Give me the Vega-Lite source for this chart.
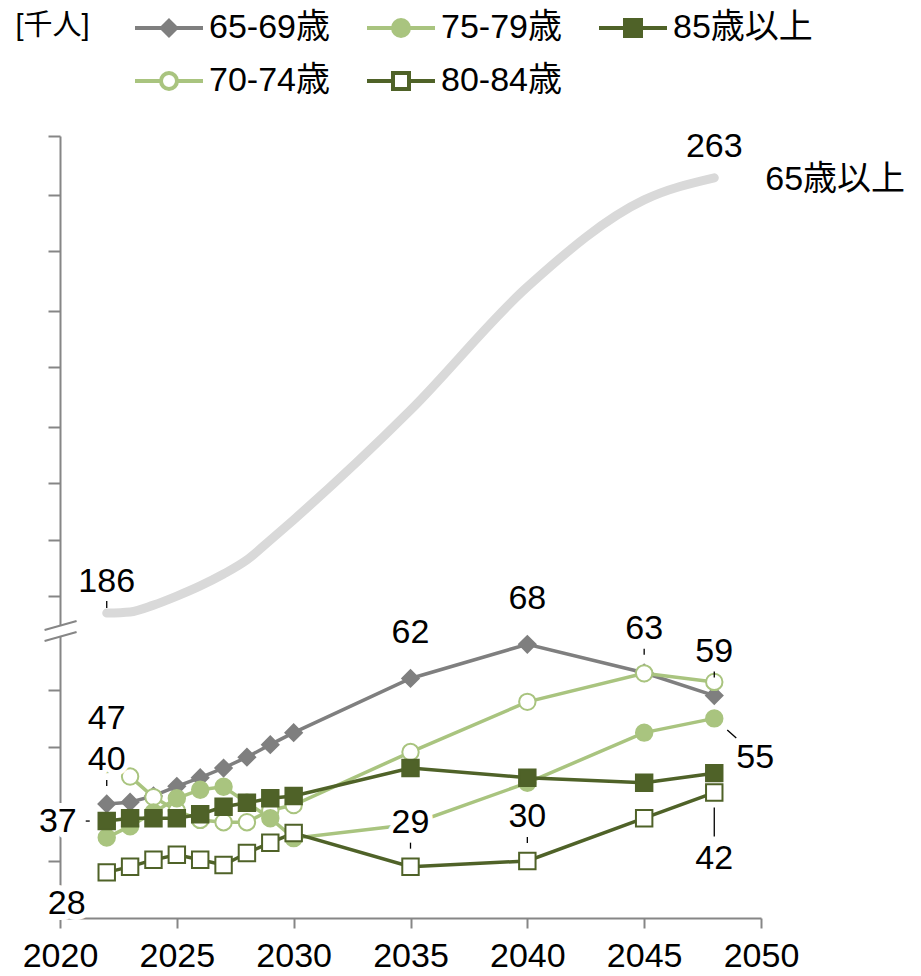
{
  "$schema": "https://vega.github.io/schema/vega-lite/v6.json",
  "width": 701,
  "height": 782,
  "autosize": {"type": "none"},
  "padding": {"left": 60, "top": 136, "right": 160, "bottom": 58},
  "background": "white",
  "config": {
    "view": {"stroke": null},
    "font": "Liberation Sans, Noto Sans CJK JP"
  },
  "datasets": {
    "ages": [
      {"series": "65-69歳", "year": 2022, "value": 40},
      {"series": "65-69歳", "year": 2023, "value": 40.3},
      {"series": "65-69歳", "year": 2024, "value": 41.4},
      {"series": "65-69歳", "year": 2025, "value": 43.1},
      {"series": "65-69歳", "year": 2026, "value": 44.6},
      {"series": "65-69歳", "year": 2027, "value": 46.3},
      {"series": "65-69歳", "year": 2028, "value": 48.2},
      {"series": "65-69歳", "year": 2029, "value": 50.4},
      {"series": "65-69歳", "year": 2030, "value": 52.5},
      {"series": "65-69歳", "year": 2035, "value": 62},
      {"series": "65-69歳", "year": 2040, "value": 68},
      {"series": "65-69歳", "year": 2045, "value": 63},
      {"series": "65-69歳", "year": 2048, "value": 59},
      {"series": "70-74歳", "year": 2022, "value": 47},
      {"series": "70-74歳", "year": 2023, "value": 44.8},
      {"series": "70-74歳", "year": 2024, "value": 41.2},
      {"series": "70-74歳", "year": 2025, "value": 38.8},
      {"series": "70-74歳", "year": 2026, "value": 37.2},
      {"series": "70-74歳", "year": 2027, "value": 36.8},
      {"series": "70-74歳", "year": 2028, "value": 36.8},
      {"series": "70-74歳", "year": 2029, "value": 38.9},
      {"series": "70-74歳", "year": 2030, "value": 39.8},
      {"series": "70-74歳", "year": 2035, "value": 49.1},
      {"series": "70-74歳", "year": 2040, "value": 57.9},
      {"series": "70-74歳", "year": 2045, "value": 62.9},
      {"series": "70-74歳", "year": 2048, "value": 61.4},
      {"series": "75-79歳", "year": 2022, "value": 34.1},
      {"series": "75-79歳", "year": 2023, "value": 36.1},
      {"series": "75-79歳", "year": 2024, "value": 38.5},
      {"series": "75-79歳", "year": 2025, "value": 41.0},
      {"series": "75-79歳", "year": 2026, "value": 42.5},
      {"series": "75-79歳", "year": 2027, "value": 43.0},
      {"series": "75-79歳", "year": 2028, "value": 40.2},
      {"series": "75-79歳", "year": 2029, "value": 37.5},
      {"series": "75-79歳", "year": 2030, "value": 34.0},
      {"series": "75-79歳", "year": 2035, "value": 36.4},
      {"series": "75-79歳", "year": 2040, "value": 43.7},
      {"series": "75-79歳", "year": 2045, "value": 52.5},
      {"series": "75-79歳", "year": 2048, "value": 55},
      {"series": "85歳以上", "year": 2022, "value": 37},
      {"series": "85歳以上", "year": 2023, "value": 37.5},
      {"series": "85歳以上", "year": 2024, "value": 37.5},
      {"series": "85歳以上", "year": 2025, "value": 37.5},
      {"series": "85歳以上", "year": 2026, "value": 38.2},
      {"series": "85歳以上", "year": 2027, "value": 39.5},
      {"series": "85歳以上", "year": 2028, "value": 40.2},
      {"series": "85歳以上", "year": 2029, "value": 41.0},
      {"series": "85歳以上", "year": 2030, "value": 41.4},
      {"series": "85歳以上", "year": 2035, "value": 46.3},
      {"series": "85歳以上", "year": 2040, "value": 44.6},
      {"series": "85歳以上", "year": 2045, "value": 43.7},
      {"series": "85歳以上", "year": 2048, "value": 45.4},
      {"series": "80-84歳", "year": 2022, "value": 28},
      {"series": "80-84歳", "year": 2023, "value": 29.0},
      {"series": "80-84歳", "year": 2024, "value": 30.2},
      {"series": "80-84歳", "year": 2025, "value": 31.1},
      {"series": "80-84歳", "year": 2026, "value": 30.2},
      {"series": "80-84歳", "year": 2027, "value": 29.3},
      {"series": "80-84歳", "year": 2028, "value": 31.4},
      {"series": "80-84歳", "year": 2029, "value": 33.2},
      {"series": "80-84歳", "year": 2030, "value": 34.9},
      {"series": "80-84歳", "year": 2035, "value": 29},
      {"series": "80-84歳", "year": 2040, "value": 30},
      {"series": "80-84歳", "year": 2045, "value": 37.5},
      {"series": "80-84歳", "year": 2048, "value": 42}
    ],
    "total": [
      {"series": "65歳以上", "year": 2022, "value": 186},
      {"series": "65歳以上", "year": 2023, "value": 186.2},
      {"series": "65歳以上", "year": 2024, "value": 187.4},
      {"series": "65歳以上", "year": 2025, "value": 189.0},
      {"series": "65歳以上", "year": 2026, "value": 190.8},
      {"series": "65歳以上", "year": 2027, "value": 192.9},
      {"series": "65歳以上", "year": 2028, "value": 195.4},
      {"series": "65歳以上", "year": 2029, "value": 198.9},
      {"series": "65歳以上", "year": 2030, "value": 202.5},
      {"series": "65歳以上", "year": 2035, "value": 221.9},
      {"series": "65歳以上", "year": 2040, "value": 243.7},
      {"series": "65歳以上", "year": 2045, "value": 259.1},
      {"series": "65歳以上", "year": 2048, "value": 263}
    ]
  },
  "layer": [
    {
      "data": {"name": "total"},
      "mark": {"type": "line", "color": "#d9d9d9", "strokeWidth": 9, "interpolate": "monotone", "strokeCap": "round"},
      "encoding": {
        "x": {
          "field": "year", "type": "quantitative",
          "scale": {"domain": [2020, 2050], "nice": false, "zero": false},
          "axis": {
            "title": null, "values": [2020, 2025, 2030, 2035, 2040, 2045, 2050], "format": "d",
            "labelFontSize": 34, "labelColor": "#000000", "labelPadding": 11,
            "labelFlush": false, "labelOverlap": false,
            "tickSize": 10, "tickWidth": 2, "tickColor": "#868686",
            "domainColor": "#868686", "domainWidth": 2, "grid": false
          }
        },
        "y": {
          "field": "value", "type": "quantitative",
          "scale": {"domain": [20, 70.5, 183, 270.4], "range": [782, 494, 494, 0], "nice": false, "zero": false},
          "axis": {
            "title": "[千人]", "titleAngle": 0, "titleAlign": "left", "titleBaseline": "top",
            "titleX": -45, "titleY": -125, "titleFontSize": 29, "titleFontWeight": "normal", "titleColor": "#000000",
            "labels": false,
            "values": [30, 50, 60, 189, 199, 209, 219, 229.5, 239.5, 250, 260, 270.4],
            "tickSize": 12, "tickWidth": 2, "tickColor": "#868686",
            "domainColor": "#868686", "domainWidth": 2, "grid": false
          }
        }
      }
    },
    {
      "data": {"name": "ages"},
      "mark": {"type": "line", "strokeWidth": 3.5},
      "encoding": {
        "x": {"field": "year", "type": "quantitative"},
        "y": {"field": "value", "type": "quantitative"},
        "stroke": {
          "field": "series", "type": "nominal", "legend": null,
          "scale": {"domain": ["65-69歳", "70-74歳", "75-79歳", "80-84歳", "85歳以上"], "range": ["#7f7f7f", "#a9c47f", "#a9c47f", "#4f6228", "#4f6228"]}
        }
      }
    },
    {
      "data": {"name": "ages"},
      "mark": {"type": "point", "filled": true, "opacity": 1, "strokeWidth": 2, "size": 270},
      "encoding": {
        "x": {"field": "year", "type": "quantitative"},
        "y": {"field": "value", "type": "quantitative"},
        "shape": {
          "field": "series", "type": "nominal", "legend": null,
          "scale": {"domain": ["65-69歳", "70-74歳", "75-79歳", "80-84歳", "85歳以上"], "range": ["diamond", "circle", "circle", "square", "square"]}
        },
        "fill": {
          "field": "series", "type": "nominal", "legend": null,
          "scale": {"domain": ["65-69歳", "70-74歳", "75-79歳", "80-84歳", "85歳以上"], "range": ["#7f7f7f", "#ffffff", "#a9c47f", "#ffffff", "#4f6228"]}
        },
        "stroke": {
          "field": "series", "type": "nominal", "legend": null,
          "scale": {"domain": ["65-69歳", "70-74歳", "75-79歳", "80-84歳", "85歳以上"], "range": ["#7f7f7f", "#a9c47f", "#a9c47f", "#4f6228", "#4f6228"]}
        }
      }
    },
    {
      "data": {"name": "ages"},
      "transform": [{"filter": "false"}],
      "mark": {"type": "point", "filled": true, "opacity": 1, "strokeWidth": 4},
      "encoding": {
        "shape": {
          "field": "series", "type": "nominal",
          "scale": {
            "domain": ["65-69歳", "70-74歳", "75-79歳", "80-84歳", "85歳以上"],
            "range": [
              "M-1.7,0H-0.36M0.36,0H1.7M0,-0.36L0.36,0L0,0.36L-0.36,0Z",
              "M-1.7,0H-0.4M0.4,0H1.7M-0.4,0A0.4,0.4,0,1,1,0.4,0A0.4,0.4,0,1,1,-0.4,0Z",
              "M-1.7,0H-0.4M0.4,0H1.7M-0.4,0A0.4,0.4,0,1,1,0.4,0A0.4,0.4,0,1,1,-0.4,0Z",
              "M-1.7,0H-0.4M0.4,0H1.7M-0.4,-0.4H0.4V0.4H-0.4Z",
              "M-1.7,0H-0.4M0.4,0H1.7M-0.4,-0.4H0.4V0.4H-0.4Z"
            ]
          },
          "legend": {
            "title": null, "orient": "none", "legendX": 87, "legendY": -130, "columns": 3,
            "symbolSize": 1600, "symbolStrokeWidth": 4,
            "labelFontSize": 34, "labelColor": "#000000", "labelOffset": 18,
            "rowPadding": 14, "columnPadding": 29, "padding": 0
          }
        },
        "fill": {
          "field": "series", "type": "nominal",
          "scale": {"domain": ["65-69歳", "70-74歳", "75-79歳", "80-84歳", "85歳以上"], "range": ["#7f7f7f", "#ffffff", "#a9c47f", "#ffffff", "#4f6228"]}
        },
        "stroke": {
          "field": "series", "type": "nominal",
          "scale": {"domain": ["65-69歳", "70-74歳", "75-79歳", "80-84歳", "85歳以上"], "range": ["#7f7f7f", "#a9c47f", "#a9c47f", "#4f6228", "#4f6228"]}
        }
      }
    },
    {
      "data": {"values": [{}]},
      "mark": {"type": "rule", "color": "white", "strokeWidth": 6},
      "encoding": {
        "x": {"datum": 2020, "type": "quantitative"},
        "y": {"datum": 69.3, "type": "quantitative"},
        "y2": {"datum": 183.7}
      }
    },
    {
      "data": {"values": [{}]},
      "mark": {"type": "rule", "color": "#868686", "strokeWidth": 2},
      "encoding": {
        "x": {"datum": 2019.34, "type": "quantitative"},
        "x2": {"datum": 2020.71},
        "y": {"datum": 183.0, "type": "quantitative"},
        "y2": {"datum": 184.6}
      }
    },
    {
      "data": {"values": [{}]},
      "mark": {"type": "rule", "color": "#868686", "strokeWidth": 2},
      "encoding": {
        "x": {"datum": 2019.34, "type": "quantitative"},
        "x2": {"datum": 2020.71},
        "y": {"datum": 68.57, "type": "quantitative"},
        "y2": {"datum": 70.15}
      }
    },
    {
      "data": {"name": "ages"},
      "transform": [{"filter": "(datum.series === '65-69歳' && (datum.year === 2035 || datum.year === 2040)) || (datum.series === '70-74歳' && datum.year === 2022)"}],
      "mark": {"type": "text", "fontSize": 34, "dy": -45, "fill": "white", "stroke": "white", "strokeWidth": 10, "strokeJoin": "round"},
      "encoding": {
        "x": {"field": "year", "type": "quantitative"},
        "y": {"field": "value", "type": "quantitative"},
        "text": {"field": "value", "type": "quantitative", "format": ".0f"}
      }
    },
    {
      "data": {"name": "ages"},
      "transform": [{"filter": "(datum.series === '65-69歳' && (datum.year === 2022 || datum.year === 2045 || datum.year === 2048)) || (datum.series === '80-84歳' && (datum.year === 2035 || datum.year === 2040))"}],
      "mark": {"type": "text", "fontSize": 34, "dy": -44, "fill": "white", "stroke": "white", "strokeWidth": 10, "strokeJoin": "round"},
      "encoding": {
        "x": {"field": "year", "type": "quantitative"},
        "y": {"field": "value", "type": "quantitative"},
        "text": {"field": "value", "type": "quantitative", "format": ".0f"}
      }
    },
    {
      "data": {"name": "ages"},
      "transform": [{"filter": "datum.series === '85歳以上' && datum.year === 2022"}],
      "mark": {"type": "text", "fontSize": 34, "align": "right", "dx": -30, "dy": 1, "fill": "white", "stroke": "white", "strokeWidth": 12, "strokeJoin": "round"},
      "encoding": {
        "x": {"field": "year", "type": "quantitative"},
        "y": {"field": "value", "type": "quantitative"},
        "text": {"field": "value", "type": "quantitative", "format": ".0f"}
      }
    },
    {
      "data": {"name": "ages"},
      "transform": [{"filter": "datum.series === '80-84歳' && datum.year === 2022"}],
      "mark": {"type": "text", "fontSize": 34, "dx": -40, "dy": 32, "fill": "white", "stroke": "white", "strokeWidth": 12, "strokeJoin": "round"},
      "encoding": {
        "x": {"field": "year", "type": "quantitative"},
        "y": {"field": "value", "type": "quantitative"},
        "text": {"field": "value", "type": "quantitative", "format": ".0f"}
      }
    },
    {
      "data": {"name": "ages"},
      "transform": [{"filter": "(datum.series === '65-69歳' && (datum.year === 2035 || datum.year === 2040)) || (datum.series === '70-74歳' && datum.year === 2022)"}],
      "mark": {"type": "text", "fontSize": 34, "dy": -45, "color": "#000000"},
      "encoding": {
        "x": {"field": "year", "type": "quantitative"},
        "y": {"field": "value", "type": "quantitative"},
        "text": {"field": "value", "type": "quantitative", "format": ".0f"}
      }
    },
    {
      "data": {"name": "ages"},
      "transform": [{"filter": "(datum.series === '65-69歳' && (datum.year === 2022 || datum.year === 2045 || datum.year === 2048)) || (datum.series === '80-84歳' && (datum.year === 2035 || datum.year === 2040))"}],
      "mark": {"type": "text", "fontSize": 34, "dy": -44, "color": "#000000"},
      "encoding": {
        "x": {"field": "year", "type": "quantitative"},
        "y": {"field": "value", "type": "quantitative"},
        "text": {"field": "value", "type": "quantitative", "format": ".0f"}
      }
    },
    {
      "data": {"name": "ages"},
      "transform": [{"filter": "(datum.series === '65-69歳' && (datum.year === 2022 || datum.year === 2045 || datum.year === 2048)) || (datum.series === '80-84歳' && (datum.year === 2035 || datum.year === 2040))"}],
      "mark": {"type": "rule", "color": "#000000", "strokeWidth": 1.3, "yOffset": -24, "y2Offset": -18},
      "encoding": {
        "x": {"field": "year", "type": "quantitative"},
        "y": {"field": "value", "type": "quantitative"},
        "y2": {"field": "value"}
      }
    },
    {
      "data": {"name": "ages"},
      "transform": [{"filter": "datum.series === '85歳以上' && datum.year === 2022"}],
      "mark": {"type": "text", "fontSize": 34, "align": "right", "dx": -30, "dy": 1, "color": "#000000"},
      "encoding": {
        "x": {"field": "year", "type": "quantitative"},
        "y": {"field": "value", "type": "quantitative"},
        "text": {"field": "value", "type": "quantitative", "format": ".0f"}
      }
    },
    {
      "data": {"name": "ages"},
      "transform": [{"filter": "datum.series === '85歳以上' && datum.year === 2022"}],
      "mark": {"type": "rule", "color": "#000000", "strokeWidth": 1.3, "xOffset": -21, "x2Offset": -17},
      "encoding": {
        "x": {"field": "year", "type": "quantitative"},
        "x2": {"field": "year"},
        "y": {"field": "value", "type": "quantitative"}
      }
    },
    {
      "data": {"name": "ages"},
      "transform": [{"filter": "datum.series === '80-84歳' && datum.year === 2022"}],
      "mark": {"type": "text", "fontSize": 34, "dx": -40, "dy": 32, "color": "#000000"},
      "encoding": {
        "x": {"field": "year", "type": "quantitative"},
        "y": {"field": "value", "type": "quantitative"},
        "text": {"field": "value", "type": "quantitative", "format": ".0f"}
      }
    },
    {
      "data": {"name": "ages"},
      "transform": [{"filter": "datum.series === '75-79歳' && datum.year === 2048"}],
      "mark": {"type": "text", "fontSize": 34, "dx": 41, "dy": 40, "color": "#000000"},
      "encoding": {
        "x": {"field": "year", "type": "quantitative"},
        "y": {"field": "value", "type": "quantitative"},
        "text": {"field": "value", "type": "quantitative", "format": ".0f"}
      }
    },
    {
      "data": {"name": "ages"},
      "transform": [{"filter": "datum.series === '75-79歳' && datum.year === 2048"}],
      "mark": {"type": "rule", "color": "#000000", "strokeWidth": 1.3, "xOffset": 13, "x2Offset": 22, "yOffset": 11.5, "y2Offset": 19.5},
      "encoding": {
        "x": {"field": "year", "type": "quantitative"},
        "x2": {"field": "year"},
        "y": {"field": "value", "type": "quantitative"},
        "y2": {"field": "value"}
      }
    },
    {
      "data": {"name": "ages"},
      "transform": [{"filter": "datum.series === '80-84歳' && datum.year === 2048"}],
      "mark": {"type": "text", "fontSize": 34, "dy": 66, "color": "#000000"},
      "encoding": {
        "x": {"field": "year", "type": "quantitative"},
        "y": {"field": "value", "type": "quantitative"},
        "text": {"field": "value", "type": "quantitative", "format": ".0f"}
      }
    },
    {
      "data": {"name": "ages"},
      "transform": [{"filter": "datum.series === '80-84歳' && datum.year === 2048"}],
      "mark": {"type": "rule", "color": "#000000", "strokeWidth": 1.3, "yOffset": 15, "y2Offset": 44},
      "encoding": {
        "x": {"field": "year", "type": "quantitative"},
        "y": {"field": "value", "type": "quantitative"},
        "y2": {"field": "value"}
      }
    },
    {
      "data": {"name": "total"},
      "transform": [{"filter": "datum.year === 2022 || datum.year === 2048"}],
      "mark": {"type": "text", "fontSize": 34, "dy": -31, "color": "#000000"},
      "encoding": {
        "x": {"field": "year", "type": "quantitative"},
        "y": {"field": "value", "type": "quantitative"},
        "text": {"field": "value", "type": "quantitative", "format": ".0f"}
      }
    },
    {
      "data": {"name": "total"},
      "transform": [{"filter": "datum.year === 2022"}],
      "mark": {"type": "rule", "color": "#000000", "strokeWidth": 1.3, "yOffset": -12, "y2Offset": -5},
      "encoding": {
        "x": {"field": "year", "type": "quantitative"},
        "y": {"field": "value", "type": "quantitative"},
        "y2": {"field": "value"}
      }
    },
    {
      "data": {"name": "total"},
      "transform": [{"filter": "datum.year === 2048"}],
      "mark": {"type": "text", "fontSize": 34, "align": "left", "dx": 51, "dy": 2, "color": "#000000"},
      "encoding": {
        "x": {"field": "year", "type": "quantitative"},
        "y": {"field": "value", "type": "quantitative"},
        "text": {"field": "series", "type": "nominal"}
      }
    }
  ],
  "resolve": {
    "scale": {"shape": "independent", "fill": "independent", "stroke": "independent"}
  }
}
